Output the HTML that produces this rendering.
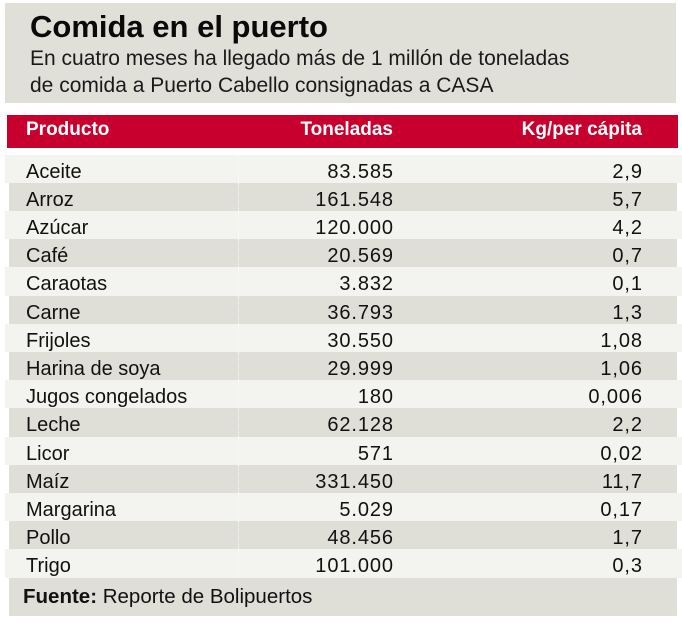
<!DOCTYPE html>
<html>
<head>
<meta charset="utf-8">
<style>
html,body{margin:0;padding:0;background:#fff;}
body{width:682px;height:623px;position:relative;overflow:hidden;font-family:"Liberation Sans",sans-serif;color:#111;}
.abs{position:absolute;white-space:nowrap;}
#hdr{left:5px;top:3px;width:671px;height:100px;background:#e0dfd8;}
#title{left:30px;top:10.8px;font-size:31px;line-height:31px;font-weight:bold;color:#0a0a0a;}
.sub{left:30px;font-size:21px;line-height:21px;color:#1a1a1a;}
#red{left:7px;top:115px;width:671px;height:33px;background:#c8002d;}
.th{top:120px;font-size:19px;line-height:19px;font-weight:bold;color:#fff;}
.row{position:absolute;height:28.3px;}
.light{left:5px;width:677px;background:#f3f3ef;}
.dark{left:9px;width:668px;background:#e0dfd7;}
.cell{position:absolute;top:7.1px;font-size:20px;line-height:20px;white-space:nowrap;color:#111;}
.c1{left:21px;}
.dark .c1{left:17px;}
.c2,.c3{letter-spacing:0.9px;}
.light .c2{right:288.1px;}
.dark .c2{right:283.1px;}
.light .c3{right:39.1px;}
.dark .c3{right:34.1px;}
.vl{position:absolute;top:0;bottom:0;width:0;border-left:1px dotted #f7f7f3;}
.light .vl{left:233px;border-left-color:#fafaf7;}
.dark .vl{left:229px;}
#foot{left:9px;top:578px;width:668px;height:38px;background:#e0dfd7;}
#ftxt{left:23px;top:586.6px;font-size:20.5px;line-height:20.5px;color:#111;}
</style>
</head>
<body>
<div id="hdr" class="abs"></div>
<div id="title" class="abs">Comida en el puerto</div>
<div class="abs sub" style="top:48.2px;">En cuatro meses ha llegado más de 1 millón de toneladas</div>
<div class="abs sub" style="top:75.2px;">de comida a Puerto Cabello consignadas a CASA</div>

<div id="red" class="abs"></div>
<div class="abs th" style="left:26px;">Producto</div>
<div class="abs th" style="right:289px;">Toneladas</div>
<div class="abs th" style="right:40px;">Kg/per cápita</div>

<div class="row light" style="top:154.5px;"><div class="vl"></div><span class="cell c1">Aceite</span><span class="cell c2">83.585</span><span class="cell c3">2,9</span></div>
<div class="row dark" style="top:182.7px;"><div class="vl"></div><span class="cell c1">Arroz</span><span class="cell c2">161.548</span><span class="cell c3">5,7</span></div>
<div class="row light" style="top:210.9px;"><div class="vl"></div><span class="cell c1">Azúcar</span><span class="cell c2">120.000</span><span class="cell c3">4,2</span></div>
<div class="row dark" style="top:239.1px;"><div class="vl"></div><span class="cell c1">Café</span><span class="cell c2">20.569</span><span class="cell c3">0,7</span></div>
<div class="row light" style="top:267.3px;"><div class="vl"></div><span class="cell c1">Caraotas</span><span class="cell c2">3.832</span><span class="cell c3">0,1</span></div>
<div class="row dark" style="top:295.5px;"><div class="vl"></div><span class="cell c1">Carne</span><span class="cell c2">36.793</span><span class="cell c3">1,3</span></div>
<div class="row light" style="top:323.7px;"><div class="vl"></div><span class="cell c1">Frijoles</span><span class="cell c2">30.550</span><span class="cell c3">1,08</span></div>
<div class="row dark" style="top:351.9px;"><div class="vl"></div><span class="cell c1">Harina de soya</span><span class="cell c2">29.999</span><span class="cell c3">1,06</span></div>
<div class="row light" style="top:380.1px;"><div class="vl"></div><span class="cell c1">Jugos congelados</span><span class="cell c2">180</span><span class="cell c3">0,006</span></div>
<div class="row dark" style="top:408.3px;"><div class="vl"></div><span class="cell c1">Leche</span><span class="cell c2">62.128</span><span class="cell c3">2,2</span></div>
<div class="row light" style="top:436.5px;"><div class="vl"></div><span class="cell c1">Licor</span><span class="cell c2">571</span><span class="cell c3">0,02</span></div>
<div class="row dark" style="top:464.7px;"><div class="vl"></div><span class="cell c1">Maíz</span><span class="cell c2">331.450</span><span class="cell c3">11,7</span></div>
<div class="row light" style="top:492.9px;"><div class="vl"></div><span class="cell c1">Margarina</span><span class="cell c2">5.029</span><span class="cell c3">0,17</span></div>
<div class="row dark" style="top:521.1px;"><div class="vl"></div><span class="cell c1">Pollo</span><span class="cell c2">48.456</span><span class="cell c3">1,7</span></div>
<div class="row light" style="top:549.4px;"><div class="vl"></div><span class="cell c1">Trigo</span><span class="cell c2">101.000</span><span class="cell c3">0,3</span></div>

<div id="foot" class="abs"></div>
<div id="ftxt" class="abs"><b>Fuente:</b> Reporte de Bolipuertos</div>
</body>
</html>
